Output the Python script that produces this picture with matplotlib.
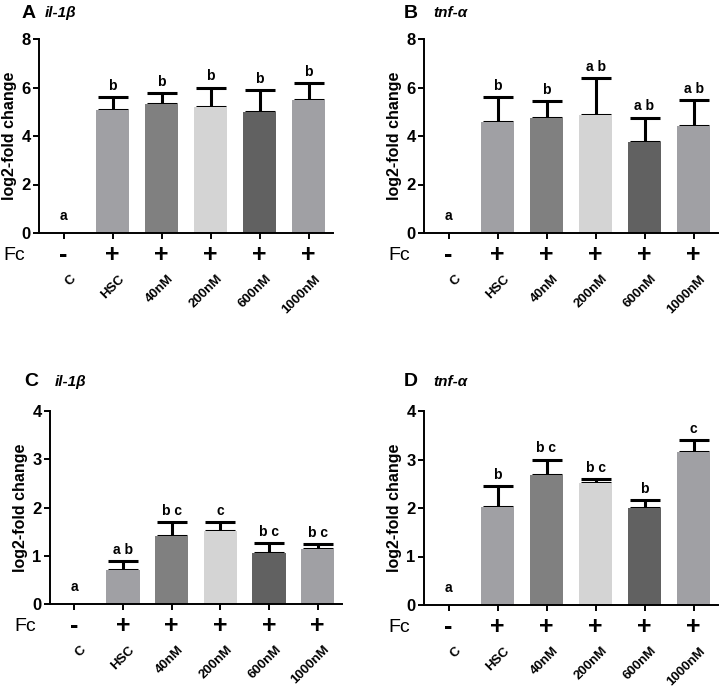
import matplotlib
matplotlib.use("Agg")
import matplotlib.pyplot as plt
import numpy as np

plt.rcParams['font.family'] = ['Liberation Sans', 'DejaVu Sans']

categories = ["C", "HSC", "40nM", "200nM", "600nM", "1000nM"]
fc_signs = ["-", "+", "+", "+", "+", "+"]
bar_colors = ["#ffffff", "#a0a0a4", "#808080", "#d4d4d4", "#616161", "#a0a0a4"]

# Panel A: il-1b
a_vals = [0.0, 5.09, 5.31, 5.18, 4.97, 5.48]
a_err = [0.0, 0.53, 0.45, 0.82, 0.92, 0.69]
a_letters = ["a", "b", "b", "b", "b", "b"]
# Panel B: tnf-a
b_vals = [0.0, 4.56, 4.76, 4.85, 3.77, 4.43]
b_err = [0.0, 1.03, 0.69, 1.55, 0.99, 1.05]
b_letters = ["a", "b", "b", "a b", "a b", "a b"]
# Panel C: il-1b
c_vals = [0.0, 0.70, 1.41, 1.51, 1.06, 1.13]
c_err = [0.0, 0.19, 0.28, 0.19, 0.21, 0.11]
c_letters = ["a", "a b", "b c", "c", "b c", "b c"]
# Panel D: tnf-a
d_vals = [0.0, 2.03, 2.69, 2.51, 2.00, 3.16]
d_err = [0.0, 0.42, 0.31, 0.08, 0.16, 0.24]
d_letters = ["a", "b", "b c", "b c", "b", "c"]

W, H = 722, 689
fig = plt.figure(figsize=(W / 100, H / 100), dpi=100)


def px_axes(x0, x1, ytop, ybot):
    return fig.add_axes([x0 / W, 1 - ybot / H, (x1 - x0) / W, (ybot - ytop) / H])


panels = [
    dict(rect=(39, 333, 39, 233), vals=a_vals, err=a_err, letters=a_letters,
         ymax=8, yticks=[0, 2, 4, 6, 8], tag="A", gene="il-1β",
         tagpos=(22, 13), genepos=(45, 13)),
    dict(rect=(424, 718, 39, 233), vals=b_vals, err=b_err, letters=b_letters,
         ymax=8, yticks=[0, 2, 4, 6, 8], tag="B", gene="tnf-α",
         tagpos=(404, 13), genepos=(433, 13)),
    dict(rect=(50, 342, 411, 604), vals=c_vals, err=c_err, letters=c_letters,
         ymax=4, yticks=[0, 1, 2, 3, 4], tag="C", gene="il-1β",
         tagpos=(24, 382), genepos=(55, 382)),
    dict(rect=(424, 718, 411, 605), vals=d_vals, err=d_err, letters=d_letters,
         ymax=4, yticks=[0, 1, 2, 3, 4], tag="D", gene="tnf-α",
         tagpos=(404, 382), genepos=(433, 382)),
]

x = np.arange(len(categories))

for p in panels:
    ax = px_axes(*p["rect"])
    ax.bar(x, p["vals"], width=0.68, color=bar_colors, edgecolor='none', zorder=2)
    for xi, v, e in zip(x, p["vals"], p["err"]):
        if e > 0:
            ax.errorbar([xi], [v], yerr=[[0], [e]], fmt='none', ecolor='black',
                        elinewidth=2.2, capsize=11, capthick=2.2, zorder=1)
    for xi, v, e, lab in zip(x, p["vals"], p["err"], p["letters"]):
        ax.annotate(lab, (xi, v + e), xytext=(0, 3 if v > 0 else 7),
                    textcoords='offset points', ha='center', va='bottom',
                    fontsize=10, fontweight='bold')
    ax.set_xlim(-0.5, 5.5)
    ax.set_ylim(0, p["ymax"])
    ax.set_yticks(p["yticks"])
    ax.set_xticks(x)
    ax.set_xticklabels([])
    ax.spines['top'].set_visible(False)
    ax.spines['right'].set_visible(False)
    ax.spines['left'].set_linewidth(1.4)
    ax.spines['bottom'].set_linewidth(1.4)
    ax.tick_params(axis='both', width=1.4, length=4, direction='out')
    ax.tick_params(axis='y', labelsize=12, pad=2)
    for t in ax.get_yticklabels():
        t.set_fontweight('bold')
    ax.set_ylabel("log2-fold change", fontsize=11.5, fontweight='bold', labelpad=3)
    tr = ax.get_xaxis_transform()
    for xi, s in zip(x, fc_signs):
        ax.text(xi, -0.115, s, transform=tr, ha='center', va='center',
                fontsize=18, fontweight='bold')
    for xi, c in zip(x, categories):
        ax.text(xi + 0.12, -0.205, c, transform=tr, ha='right', va='top',
                rotation=45, rotation_mode='anchor', fontsize=9.5, fontweight='bold')
    x0, x1, ytop, ybot = p["rect"]
    fc_y = ybot + 0.115 * (ybot - ytop)
    fig.text((x0 - 36) / W, 1 - fc_y / H, "Fc", ha='left', va='center', fontsize=14)
    fig.text(p["tagpos"][0] / W, 1 - p["tagpos"][1] / H, p["tag"], ha='left',
             va='center', fontsize=14, fontweight='bold')
    fig.text(p["genepos"][0] / W, 1 - p["genepos"][1] / H, p["gene"], ha='left',
             va='center', fontsize=11, fontweight='bold', style='italic')

fig.savefig("out.png", dpi=100)
